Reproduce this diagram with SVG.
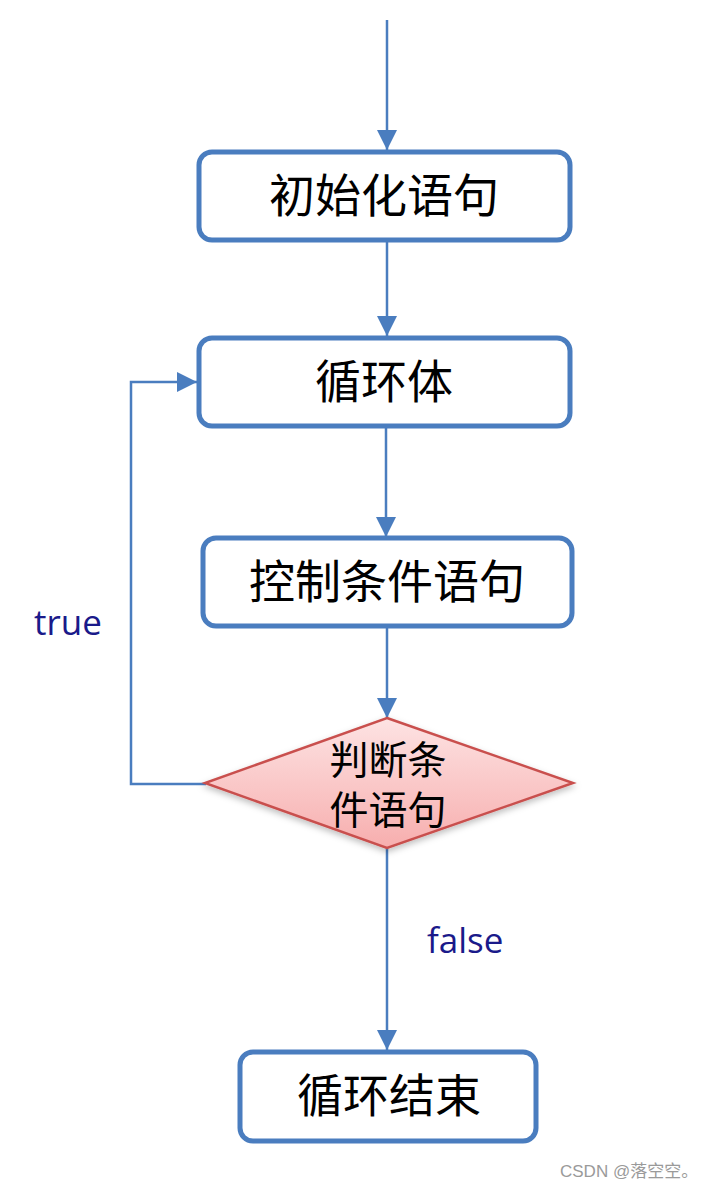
<svg xmlns="http://www.w3.org/2000/svg" width="713" height="1188" viewBox="0 0 713 1188">
<defs>
<marker id="arr" viewBox="0 0 10 10" refX="10" refY="5" markerWidth="8" markerHeight="8" markerUnits="strokeWidth" orient="auto">
<path d="M0,0 L10,5 L0,10 z" fill="#4a7dbf"/>
</marker>
<linearGradient id="pink" x1="0" y1="0" x2="0" y2="1">
<stop offset="0" stop-color="#fde3e3"/>
<stop offset="1" stop-color="#f7aeae"/>
</linearGradient>
<filter id="sh" x="-10%" y="-10%" width="120%" height="130%">
<feDropShadow dx="0" dy="3" stdDeviation="3" flood-color="#000" flood-opacity="0.25"/>
</filter>
</defs>
<style>
.box{fill:#fff;stroke:#4a7dbf;stroke-width:5}
.lbl{font-family:"Noto Sans CJK SC","Noto Sans",sans-serif;font-size:46px;fill:#000;text-anchor:middle}
.dl{font-family:"Noto Sans CJK SC","Noto Sans",sans-serif;font-size:39px;fill:#000;text-anchor:middle}
.con{fill:none;stroke:#4a7dbf;stroke-width:2.5;marker-end:url(#arr)}
.tf{font-family:"Open Sans","Liberation Sans",sans-serif;font-size:35px;fill:#1a1a8a}
</style>
<rect width="713" height="1188" fill="#fff"/>
<g id="connectors">
<path class="con" d="M387,20 V150"/>
<path class="con" d="M387,242 V336"/>
<path class="con" d="M386,428 V537"/>
<path class="con" d="M387,628 V718"/>
<path class="con" d="M387,848 V1050"/>
<path class="con" d="M206,784 H131 V382 H197"/>
</g>
<g id="n1"><rect class="box" x="199" y="152" width="371" height="88" rx="13"/><text class="lbl" x="384" y="212">初始化语句</text></g>
<g id="n2"><rect class="box" x="199" y="338" width="371" height="88" rx="13"/><text class="lbl" x="384" y="398">循环体</text></g>
<g id="n3"><rect class="box" x="203" y="538" width="369" height="88" rx="13"/><text class="lbl" x="387" y="598">控制条件语句</text></g>
<g id="n4"><path d="M387,718 L573,783 L387,848 L205,783 z" fill="url(#pink)" stroke="#c9504e" stroke-width="2.5" filter="url(#sh)"/>
<text class="dl" x="388" y="774">判断条</text>
<text class="dl" x="388" y="824">件语句</text></g>
<g id="n5"><rect class="box" x="240" y="1052" width="296" height="89" rx="13"/><text class="lbl" x="389" y="1112">循环结束</text></g>
<text class="tf" x="34" y="635">true</text>
<text class="tf" x="427" y="953">false</text>
<text x="560" y="1177" font-family="'Liberation Sans','Noto Sans CJK SC',sans-serif" font-size="17" fill="#9a9a9a">CSDN @落空空。</text>
</svg>
